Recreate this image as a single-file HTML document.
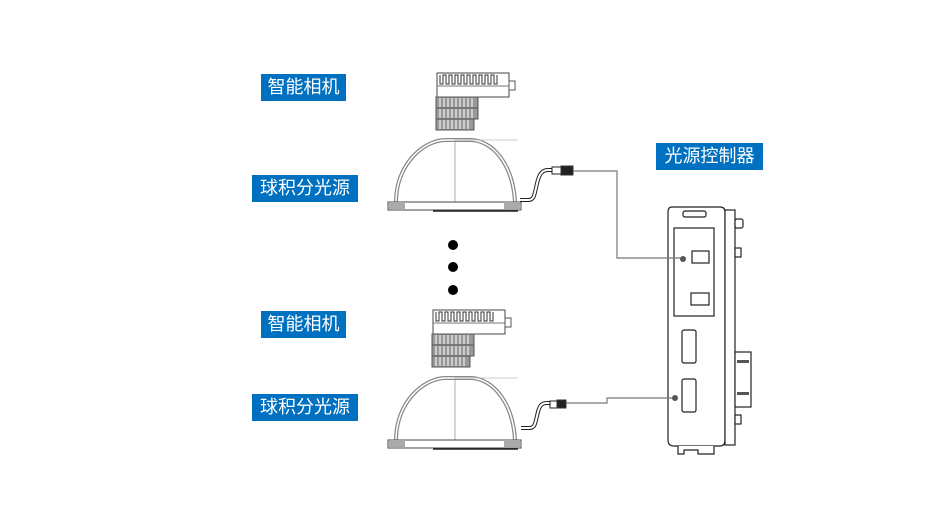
<!DOCTYPE html>
<html><head><meta charset="utf-8"><style>
body{margin:0;background:#fff;width:951px;height:520px;overflow:hidden;position:relative;font-family:"Liberation Sans","Noto Sans CJK SC",sans-serif}
.l{position:absolute;background:#0070C0;color:#fff;font-size:18px;line-height:27px;text-align:center}
</style></head><body>
<svg width="951" height="520" style="position:absolute;left:0;top:0" fill="none" stroke="#333">
<defs>
<g id="cam">
<rect x="0" y="0" width="72" height="24" stroke="#444" fill="#fff"/>
<path d="M3 2 v9 h3 v-9 h3 v9 h3 v-9 h3 v9 h3 v-9 h3 v9 h3 v-9 h3 v9 h3 v-9 h3 v9 h3 v-9 h3 v9 h3 v-9 h3 v9 h3 v-9 h3 v9 h3 v-9 h3 v9 h3 v-9" stroke="#333" stroke-width="1"/>
<line x1="0" y1="13" x2="72" y2="13" stroke="#777"/>
<rect x="72" y="8" width="6" height="9" stroke="#555"/>
<g fill="#999" stroke="#555">
<rect x="-1" y="24" width="42" height="11"/><rect x="-1" y="35" width="42" height="11"/><rect x="-1" y="46" width="38" height="11"/>
</g>
<path d="M3 25v9M7 25v9M11 25v9M15 25v9M19 25v9M23 25v9M27 25v9M31 25v9M35 25v9M3 36v9M7 36v9M11 36v9M15 36v9M19 36v9M23 36v9M27 36v9M31 36v9M35 36v9M3 47v9M7 47v9M11 47v9M15 47v9M19 47v9M23 47v9M27 47v9M31 47v9" stroke="#eee" stroke-width="1.2"/>
</g>
<g id="dome">
<path d="M8 62 C8 25 35 0 58 0 L82 0 C105 0 125 25 127 62" stroke="#888" stroke-width="4"/>
<path d="M8 62 C8 25 35 0 58 0 L82 0 C105 0 125 25 127 62" stroke="#fff" stroke-width="1.5"/>
<line x1="67" y1="0" x2="67" y2="70" stroke="#999" stroke-width="0.8"/>
<line x1="67" y1="0" x2="130" y2="0" stroke="#bbb" stroke-width="0.8"/>
<rect x="0" y="62" width="133" height="8" stroke="#444" fill="#fff"/>
<rect x="1" y="62" width="16" height="7" fill="#aaa" stroke="none"/>
<rect x="116" y="62" width="16" height="7" fill="#aaa" stroke="none"/>
<line x1="45" y1="71" x2="130" y2="71" stroke="#222" stroke-width="1.5"/>
</g>
</defs>
<use href="#cam" x="437" y="73"/>
<use href="#cam" x="433" y="310"/>
<use href="#dome" x="388" y="140"/>
<use href="#dome" x="388" y="378"/>
<!-- cables -->
<path d="M520 200 h8 c6 0 6-4 8-12 c2-10 4-18 12-18 h4" stroke="#222" stroke-width="4"/>
<path d="M520 200 h8 c6 0 6-4 8-12 c2-10 4-18 12-18 h4" stroke="#fff" stroke-width="2"/>
<rect x="552" y="167" width="10" height="7" stroke="#222" fill="#fff"/>
<rect x="561" y="166" width="12" height="9" fill="#222"/>
<path d="M521 428 h8 c6 0 6-4 8-12 c2-10 4-13 10-13 h4" stroke="#222" stroke-width="4"/>
<path d="M521 428 h8 c6 0 6-4 8-12 c2-10 4-13 10-13 h4" stroke="#fff" stroke-width="2"/>
<rect x="550" y="401" width="8" height="7" stroke="#222" fill="#fff"/>
<rect x="557" y="400" width="9" height="8" fill="#222"/>
<!-- dots -->
<g fill="#000" stroke="none"><circle cx="453" cy="245" r="5"/><circle cx="453" cy="267" r="5"/><circle cx="453" cy="290" r="5"/></g>
<!-- controller -->
<g stroke="#222" stroke-width="1.2" fill="#fff">
<path d="M672 207 Q668 207 668 212 V440 Q668 446 674 446 H720 Q725 446 725 440 V212 Q725 207 720 207 Z"/>
<rect x="725" y="210" width="10" height="235"/>
<rect x="683" y="211" width="23" height="6" rx="2"/>
<rect x="735" y="219" width="8" height="9" rx="2"/>
<rect x="735" y="248" width="6" height="9"/>
<rect x="735" y="352" width="16" height="55"/>
<rect x="735" y="415" width="6" height="9"/>
<rect x="674" y="228" width="40" height="88"/>
<rect x="692" y="251" width="17" height="12"/>
<rect x="691" y="293" width="18" height="12"/>
<rect x="682" y="330" width="14" height="33" rx="2"/>
<rect x="682" y="379" width="14" height="33" rx="2"/>
<path d="M678 446 v8 h6 v-4 h14 v4 h16 v-8"/>
</g>
<g fill="#555" stroke="none"><rect x="737" y="360" width="12" height="3"/><rect x="737" y="392" width="12" height="3"/></g>
<!-- leader lines -->
<path d="M573 171 H617 V258 H683" stroke="#777" stroke-width="1.2"/>
<circle cx="683" cy="259" r="3" fill="#555" stroke="none"/>
<path d="M566 403 H607 V398 H675" stroke="#777" stroke-width="1.2"/>
<circle cx="675" cy="398" r="3" fill="#555" stroke="none"/>
</svg>
<div class="l" style="left:261px;top:74px;width:85px">智能相机</div>
<div class="l" style="left:252px;top:175px;width:106px">球积分光源</div>
<div class="l" style="left:656px;top:143px;width:107px">光源控制器</div>
<div class="l" style="left:261px;top:311px;width:85px">智能相机</div>
<div class="l" style="left:252px;top:394px;width:106px">球积分光源</div>
</body></html>
